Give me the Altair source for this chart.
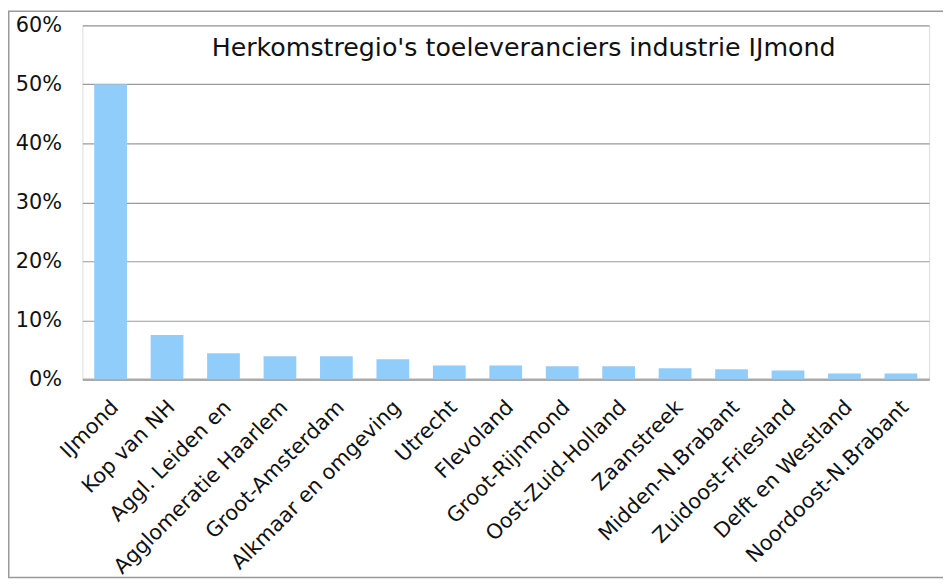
import altair as alt
import pandas as pd

regions = [
    "IJmond", "Kop van NH", "Aggl. Leiden en", "Agglomeratie Haarlem",
    "Groot-Amsterdam", "Alkmaar en omgeving", "Utrecht", "Flevoland",
    "Groot-Rijnmond", "Oost-Zuid-Holland", "Zaanstreek", "Midden-N.Brabant",
    "Zuidoost-Friesland", "Delft en Westland", "Noordoost-N.Brabant",
]
shares = [50.0, 7.5, 4.4, 3.9, 3.9, 3.4, 2.35, 2.35, 2.2, 2.2, 1.85, 1.7, 1.5, 1.0, 1.0]
y_ticks = [0, 10, 20, 30, 40, 50, 60]
title_text = "Herkomstregio's toeleveranciers industrie IJmond"

df = pd.DataFrame({"regio": regions, "aandeel": shares})

W, H = 854, 357
FONT = "DejaVu Sans"

bars = alt.Chart(df).mark_bar(color="#90CDFB").encode(
    x=alt.X(
        "regio:N", sort=regions,
        scale=alt.Scale(paddingInner=0.42, paddingOuter=0.21),
        axis=alt.Axis(
            title=None, ticks=False, labelAngle=-45, labelFontSize=21,
            labelFont=FONT, labelColor="#111111", labelPadding=17,
            labelLimit=0, labelOffset=-3,
            domainColor="#aaaaaa", domainWidth=2.5,
        ),
    ),
    y=alt.Y(
        "aandeel:Q",
        scale=alt.Scale(domain=[0, 60], nice=False),
        axis=alt.Axis(
            title=None, values=y_ticks, labelExpr="datum.value + '%'",
            ticks=False, domain=False, labelFontSize=21, labelFont=FONT,
            labelColor="#111111", labelPadding=21,
            gridColor="#9a9a9a", gridWidth=1.2,
        ),
    ),
)

title = alt.Chart(pd.DataFrame({"t": [title_text]})).mark_text(
    font=FONT, fontSize=25.5, color="#111111", baseline="middle", align="center"
).encode(text="t:N", x=alt.value(445), y=alt.value(23))

frame = alt.Chart(pd.DataFrame({"f": [0]})).mark_rect(
    filled=False, stroke="#999999", strokeWidth=1.5
).encode(
    x=alt.value(-74.25), x2=alt.value(890),
    y=alt.value(-14.25), y2=alt.value(557),
)

chart = alt.layer(bars, title, frame).properties(
    width=W, height=H,
    autosize=alt.AutoSizeParams(type="none"),
    padding={"left": 75, "top": 15, "right": 14, "bottom": 201},
).configure_view(stroke=None).configure(background="white")

chart.save("out.html", embed_options={"renderer": "svg", "actions": False})
